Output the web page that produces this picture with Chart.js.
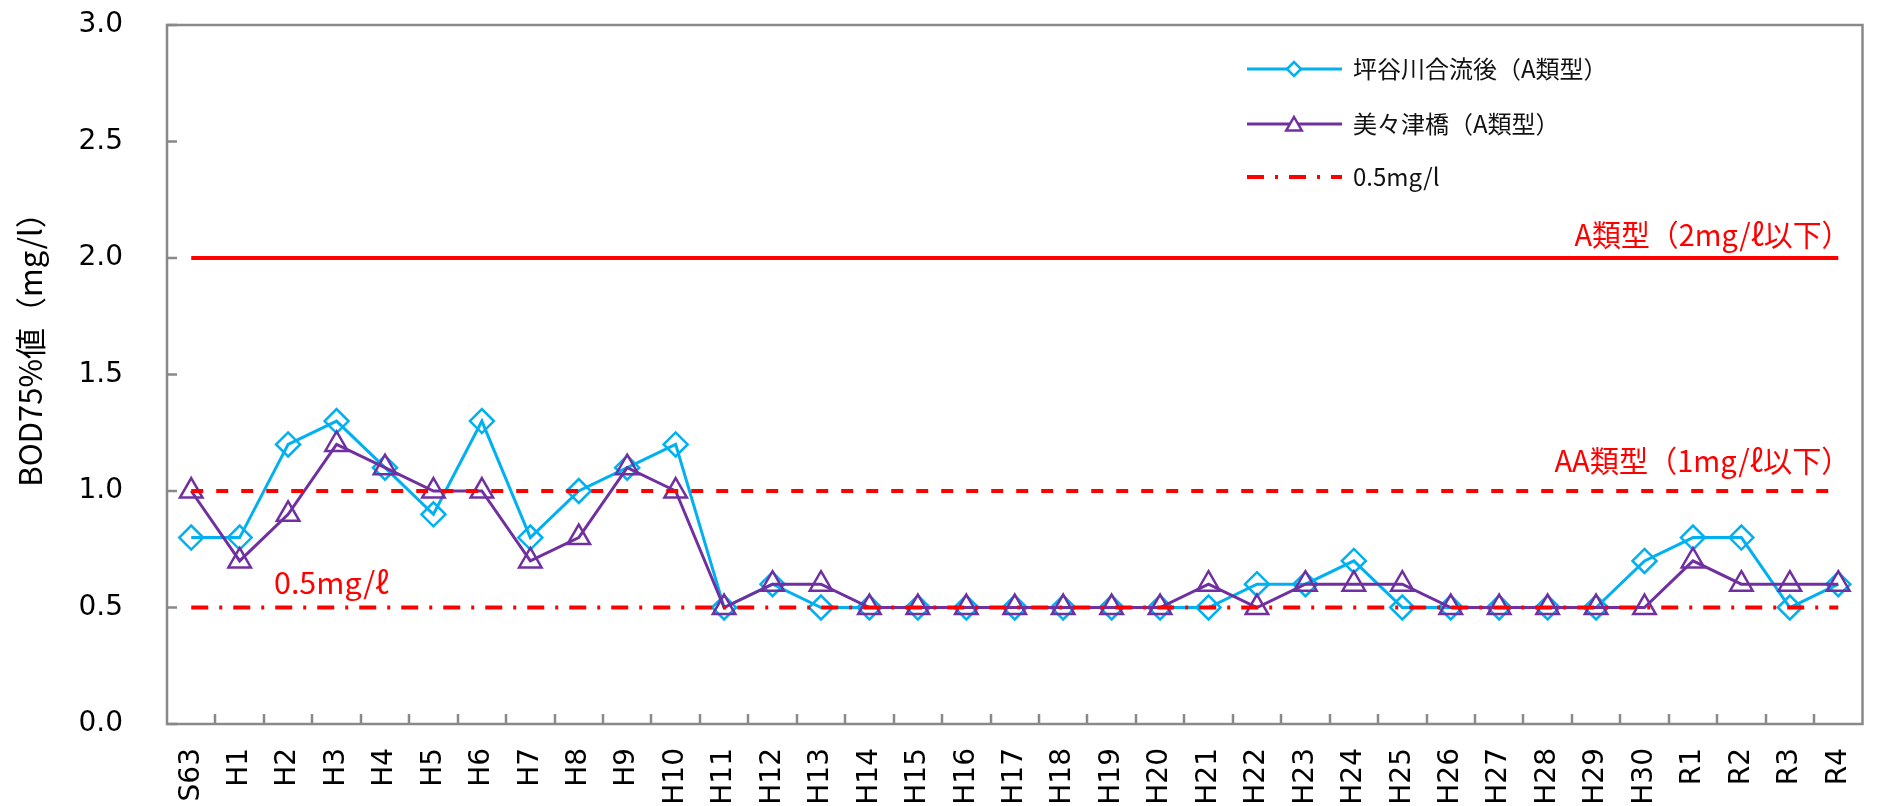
<!DOCTYPE html>
<html lang="ja">
<head>
<meta charset="utf-8">
<script src="https://cdn.jsdelivr.net/npm/chart.js@4.4.0/dist/chart.umd.min.js"></script>
<style>
    html, body { margin: 0; padding: 0; background: #fff; }
    #wrap { width: 1878px; height: 806px; }
</style>
</head>
<body>
<div id="wrap"><canvas id="bodChart" width="1878" height="806"></canvas></div>
<script>
// ===== Data =====
const years = ['S63', 'H1', 'H2', 'H3', 'H4', 'H5', 'H6', 'H7', 'H8', 'H9', 'H10',
    'H11', 'H12', 'H13', 'H14', 'H15', 'H16', 'H17', 'H18', 'H19', 'H20',
    'H21', 'H22', 'H23', 'H24', 'H25', 'H26', 'H27', 'H28', 'H29', 'H30',
    'R1', 'R2', 'R3', 'R4'];

// 坪谷川合流後（A類型）
const tsuboyaValues = [0.8, 0.8, 1.2, 1.3, 1.1, 0.9, 1.3, 0.8, 1.0, 1.1, 1.2,
    0.5, 0.6, 0.5, 0.5, 0.5, 0.5, 0.5, 0.5, 0.5, 0.5,
    0.5, 0.6, 0.6, 0.7, 0.5, 0.5, 0.5, 0.5, 0.5, 0.7,
    0.8, 0.8, 0.5, 0.6];

// 美々津橋（A類型）
const mimitsuValues = [1.0, 0.7, 0.9, 1.2, 1.1, 1.0, 1.0, 0.7, 0.8, 1.1, 1.0,
    0.5, 0.6, 0.6, 0.5, 0.5, 0.5, 0.5, 0.5, 0.5, 0.5,
    0.6, 0.5, 0.6, 0.6, 0.6, 0.5, 0.5, 0.5, 0.5, 0.5,
    0.7, 0.6, 0.6, 0.6];

const yTickLabels = ['0.0', '0.5', '1.0', '1.5', '2.0', '2.5', '3.0'];

// standard lines
const limitA = 2.0;     // A類型
const limitAA = 1.0;    // AA類型
const limitHalf = 0.5;  // 0.5mg/l

const BLUE = '#00B0F0';
const PURPLE = '#7030A0';
const RED = '#FF0000';
const AXIS_GRAY = '#898989';
const DASH_DOT = [17, 11, 3, 11];
const DASH = [12, 13];

function flatLine(value) {
    return [{ x: years[0], y: value }, { x: years[years.length - 1], y: value }];
}

// ===== Frame and inward tick marks =====
const frameTicks = {
    id: 'frameTicks',
    beforeDatasetsDraw(chart) {
        const { ctx, chartArea: a, scales: { x, y } } = chart;
        ctx.save();
        ctx.strokeStyle = AXIS_GRAY;
        ctx.lineWidth = 2.5;
        ctx.strokeRect(a.left, a.top, a.right - a.left, a.bottom - a.top);
        ctx.beginPath();
        for (let i = 1; i < years.length; i++) {
            const px = Math.round((x.getPixelForTick(i - 1) + x.getPixelForTick(i)) / 2);
            ctx.moveTo(px, a.bottom);
            ctx.lineTo(px, a.bottom - 10);
        }
        y.ticks.forEach(t => {
            const py = y.getPixelForValue(t.value);
            ctx.moveTo(a.left, py);
            ctx.lineTo(a.left + 10, py);
        });
        ctx.stroke();
        ctx.restore();
    }
};

// ===== Y axis title (sits a bit above the middle, as in the original) =====
const yTitle = {
    id: 'yTitle',
    afterDraw(chart) {
        const ctx = chart.ctx;
        ctx.save();
        ctx.translate(30, 342);
        ctx.rotate(-Math.PI / 2);
        ctx.font = '31px "Noto Sans CJK JP"';
        ctx.fillStyle = '#000';
        ctx.textAlign = 'center';
        ctx.textBaseline = 'middle';
        ctx.fillText('BOD75%値（mg/l）', 0, 0);
        ctx.restore();
    }
};

// ===== Red notes on the standard lines =====
function drawNote(ctx, text, x, y, width, align) {
    ctx.save();
    ctx.font = '30px "Noto Sans CJK JP"';
    ctx.fillStyle = RED;
    ctx.textBaseline = 'middle';
    ctx.textAlign = 'left';
    const w = ctx.measureText(text).width;
    const sx = width / w;
    const left = align === 'right' ? x - width : x;
    ctx.translate(left, y);
    ctx.scale(sx, 1);
    ctx.fillText(text, 0, 0);
    ctx.restore();
}

const lineNotes = {
    id: 'lineNotes',
    afterDatasetsDraw(chart) {
        const { ctx, chartArea: a, scales: { y } } = chart;
        drawNote(ctx, 'A類型（2mg/ℓ以下）', a.right - 12, y.getPixelForValue(limitA) - 23, 276, 'right');
        drawNote(ctx, 'AA類型（1mg/ℓ以下）', a.right - 12, y.getPixelForValue(limitAA) - 30, 296, 'right');
        drawNote(ctx, '0.5mg/ℓ', a.left + 107, y.getPixelForValue(limitHalf) - 25, 115, 'left');
    }
};

// ===== Legend box (top right inside the plot) =====
function legendMarker(ctx, style, cx, cy, r) {
    ctx.beginPath();
    if (style === 'diamond') {
        ctx.moveTo(cx - r, cy);
        ctx.lineTo(cx, cy - r);
        ctx.lineTo(cx + r, cy);
        ctx.lineTo(cx, cy + r);
    } else {
        ctx.moveTo(cx, cy - r);
        ctx.lineTo(cx + r * 0.866, cy + r * 0.5);
        ctx.lineTo(cx - r * 0.866, cy + r * 0.5);
    }
    ctx.closePath();
    ctx.fillStyle = '#fff';
    ctx.fill();
    ctx.stroke();
}

const cornerLegend = {
    id: 'cornerLegend',
    afterDraw(chart) {
        const ctx = chart.ctx;
        const items = [
            { label: '坪谷川合流後（A類型）', color: BLUE, marker: 'diamond', y: 69 },
            { label: '美々津橋（A類型）', color: PURPLE, marker: 'triangle', y: 124 },
            { label: '0.5mg/l', color: RED, dash: DASH_DOT, y: 177 }
        ];
        const x0 = 1247, x1 = 1342, mx = 1294;
        ctx.save();
        items.forEach(item => {
            ctx.strokeStyle = item.color;
            ctx.lineWidth = item.dash ? 4 : 3;
            ctx.setLineDash(item.dash || []);
            ctx.beginPath();
            ctx.moveTo(x0, item.y);
            ctx.lineTo(x1, item.y);
            ctx.stroke();
            ctx.setLineDash([]);
            if (item.marker) {
                ctx.lineWidth = 2.5;
                legendMarker(ctx, item.marker, mx, item.y + (item.marker === 'triangle' ? 2 : 0), item.marker === 'triangle' ? 9 : 7);
            }
            ctx.fillStyle = '#111';
            ctx.font = '24px "Noto Sans CJK JP"';
            ctx.textBaseline = 'middle';
            ctx.fillText(item.label, 1353, item.y);
        });
        ctx.restore();
    }
};

// ===== Chart =====
const ctx = document.getElementById('bodChart').getContext('2d');
const bodChart = new Chart(ctx, {
    type: 'line',
    data: {
        labels: years,
        datasets: [
            {
                label: '坪谷川合流後（A類型）',
                data: tsuboyaValues,
                borderColor: BLUE,
                borderWidth: 3,
                pointStyle: 'rectRot',
                pointRadius: 12,
                pointBorderWidth: 2.5,
                pointBorderColor: BLUE,
                pointBackgroundColor: 'rgba(255,255,255,0)',
                tension: 0,
                order: 2
            },
            {
                label: '美々津橋（A類型）',
                data: mimitsuValues,
                borderColor: PURPLE,
                borderWidth: 3,
                pointStyle: 'triangle',
                pointRadius: 13,
                pointBorderWidth: 2.5,
                pointBorderColor: PURPLE,
                pointBackgroundColor: 'rgba(255,255,255,0)',
                tension: 0,
                order: 1
            },
            {
                label: 'A類型',
                data: flatLine(limitA),
                borderColor: RED,
                borderWidth: 4,
                pointRadius: 0,
                order: 0
            },
            {
                label: 'AA類型',
                data: flatLine(limitAA),
                borderColor: RED,
                borderWidth: 4,
                borderDash: DASH,
                pointRadius: 0,
                order: 0
            },
            {
                label: '0.5mg/l',
                data: flatLine(limitHalf),
                borderColor: RED,
                borderWidth: 4,
                borderDash: DASH_DOT,
                pointRadius: 0,
                order: 0
            }
        ]
    },
    options: {
        responsive: false,
        animation: false,
        layout: { padding: { top: 25, right: 1, left: 0, bottom: 0 } },
        plugins: {
            legend: { display: false },
            tooltip: { enabled: false }
        },
        scales: {
            x: {
                offset: true,
                grid: { display: false, drawTicks: false },
                border: { display: false },
                ticks: {
                    autoSkip: false,
                    minRotation: 90,
                    maxRotation: 90,
                    padding: 24,
                    color: '#000',
                    font: { family: 'DejaVu Sans', size: 28 }
                },
                afterFit(scale) {
                    scale.height = 82;
                    scale.paddingLeft = 0;
                    scale.paddingRight = 0;
                }
            },
            y: {
                min: 0,
                max: 3,
                grid: { display: false, drawTicks: false },
                border: { display: false },
                ticks: {
                    stepSize: 0.5,
                    padding: 44,
                    color: '#000',
                    font: { family: 'DejaVu Sans', size: 28 },
                    callback: (value, index) => yTickLabels[index]
                },
                afterFit(scale) {
                    scale.width = 167;
                    scale.paddingTop = 0;
                    scale.paddingBottom = 0;
                }
            }
        }
    },
    plugins: [frameTicks, lineNotes, cornerLegend, yTitle]
});
</script>
</body>
</html>
